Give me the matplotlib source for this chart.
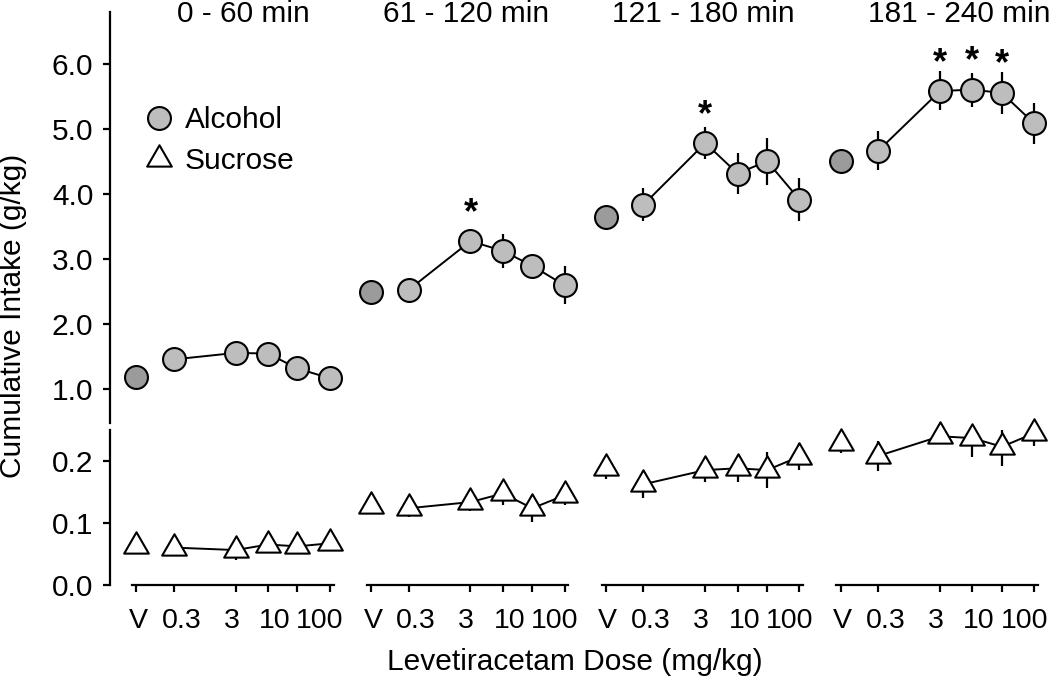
import numpy as np
import matplotlib
matplotlib.use('Agg')
import matplotlib.pyplot as plt
from matplotlib.path import Path
from matplotlib.markers import MarkerStyle
from matplotlib.lines import Line2D

plt.rcParams['font.family'] = ['Liberation Sans', 'DejaVu Sans']

# ------------------------------------------------------------------
# ---------------------------- Data --------------------------------
# ------------------------------------------------------------------
panels = ['0 - 60 min', '61 - 120 min', '121 - 180 min', '181 - 240 min']
doses = [0.3, 3, 10, 30, 100]          # mg/kg, first point of each panel is vehicle
dose_labels = ['V', '0.3', '3', '10', '', '100']

alcohol_mean = [[1.19, 1.46, 1.56, 1.55, 1.32, 1.17],
                [2.49, 2.53, 3.28, 3.13, 2.90, 2.60],
                [3.65, 3.84, 4.79, 4.32, 4.51, 3.92],
                [4.52, 4.67, 5.59, 5.61, 5.56, 5.09]]
alcohol_sem = [[0.08, 0.08, 0.10, 0.10, 0.10, 0.08],
               [0.08, 0.12, 0.15, 0.26, 0.15, 0.29],
               [0.08, 0.25, 0.25, 0.32, 0.36, 0.33],
               [0.10, 0.30, 0.30, 0.26, 0.32, 0.32]]
sucrose_mean = [[0.062, 0.060, 0.056, 0.065, 0.062, 0.067],
                [0.128, 0.124, 0.134, 0.148, 0.124, 0.145],
                [0.189, 0.163, 0.186, 0.189, 0.186, 0.208],
                [0.230, 0.209, 0.241, 0.238, 0.224, 0.246]]
sucrose_sem = [[0.006, 0.006, 0.016, 0.008, 0.008, 0.008],
               [0.008, 0.015, 0.014, 0.018, 0.022, 0.015],
               [0.018, 0.022, 0.020, 0.022, 0.029, 0.022],
               [0.017, 0.024, 0.012, 0.031, 0.032, 0.021]]
signif = [[], [2], [2], [2, 3, 4]]   # index of doses marked with *

# ------------------------------------------------------------------
# ------------------------- Layout ---------------------------------
# ------------------------------------------------------------------
W, H = 1050, 689
v_pos = -1.13                       # where the vehicle sits on the log axis
x = np.concatenate([[v_pos], np.log10(doses)])
label_shift = [0.03, 0.12, -0.07, 0.11, 0.0, -0.16]   # nudge tick labels like the original
xlim = (v_pos - 0.07, 2.06)

col_left = [132 + 234.8 * i for i in range(4)]
col_w = 201.5
top_px, brk_top, brk_bot, bot_px = 11.7, 422.7, 430, 584.5
title_x = [243, 466, 703, 959]

alc_fill = '#bdbdbd'
veh_fill = '#9b9b9b'
lw = 1.6
fs = 21.5

tri = MarkerStyle(Path([(0, 1), (-0.866, -0.5), (0.866, -0.5), (0, 1)],
                       [Path.MOVETO, Path.LINETO, Path.LINETO, Path.CLOSEPOLY]),
                  joinstyle='miter')

fig = plt.figure(figsize=(W / 100, H / 100), dpi=100)

for i in range(4):
    l = col_left[i] / W
    w = col_w / W
    ax_t = fig.add_axes([l, (H - brk_top) / H, w, (brk_top - top_px) / H])
    ax_b = fig.add_axes([l, (H - bot_px) / H, w, (bot_px - brk_bot) / H])

    for ax in (ax_t, ax_b):
        ax.set_xlim(xlim)
        ax.patch.set_visible(False)
        for s in ['top', 'right']:
            ax.spines[s].set_visible(False)
        for s in ['left', 'bottom']:
            ax.spines[s].set_linewidth(lw)
        ax.tick_params(axis='both', width=lw, length=5, labelsize=fs, pad=7)

    ax_t.set_ylim(0.486, 6.81)
    ax_b.set_ylim(0, 0.2512)
    ax_t.spines['bottom'].set_visible(False)
    ax_t.set_xticks([])

    if i == 0:
        for ax in (ax_t, ax_b):
            ax.spines['left'].set_position(('outward', 15.8))
        ax_t.set_yticks([1, 2, 3, 4, 5, 6], ['1.0', '2.0', '3.0', '4.0', '5.0', '6.0'])
        ax_b.set_yticks([0, 0.1, 0.2], ['0.0', '0.1', '0.2'])
    else:
        for ax in (ax_t, ax_b):
            ax.spines['left'].set_visible(False)
            ax.set_yticks([])

    # x axis: tick marks at the doses, labels slightly nudged
    ax_b.set_xticks(x, [''] * len(x))
    ax_b.set_xticks(x + np.array(label_shift), dose_labels, minor=True)
    ax_b.tick_params(axis='x', which='minor', length=0, labelsize=20.5, pad=17)

    # -------- Alcohol --------
    am = np.array(alcohol_mean[i])
    ax_t.errorbar(x, am, yerr=alcohol_sem[i], fmt='none', ecolor='k',
                  elinewidth=lw, capsize=0, zorder=2)
    ax_t.plot(x[1:], am[1:], c='k', lw=1.4, zorder=2)
    ax_t.plot(x[1:], am[1:], 'o', ms=16.5, mfc=alc_fill, mec='k', mew=1.5,
              zorder=3, clip_on=False)
    ax_t.plot(x[:1], am[:1], 'o', ms=16.5, mfc=veh_fill, mec='k', mew=1.5,
              zorder=3, clip_on=False)
    for k in signif[i]:
        ax_t.annotate('*', xy=(x[k], am[k]), xytext=(0, 20), textcoords='offset points',
                      ha='center', va='center', fontsize=26, fontweight='bold')

    # -------- Sucrose --------
    sm = np.array(sucrose_mean[i])
    ax_b.errorbar(x, sm, yerr=sucrose_sem[i], fmt='none', ecolor='k',
                  elinewidth=lw, capsize=0, zorder=2)
    ax_b.plot(x[1:], sm[1:], c='k', lw=1.4, zorder=2)
    ax_b.plot(x, sm, ls='none', marker=tri, ms=20.5, mfc='white', mec='k', mew=1.5,
              zorder=3, clip_on=False)

    fig.text(title_x[i] / W, (H - 22) / H, panels[i], ha='center', va='baseline',
             fontsize=fs)

    if i == 0:
        handles = [Line2D([], [], ls='none', marker='o', ms=16.5, mfc=alc_fill, mec='k', mew=1.5),
                   Line2D([], [], ls='none', marker=tri, ms=20.5, mfc='white', mec='k', mew=1.5)]
        ax_t.legend(handles, ['Alcohol', 'Sucrose'], loc='upper left',
                    bbox_to_anchor=((144.5 - col_left[0]) / col_w, 1 - (106 - top_px) / (brk_top - top_px)),
                    frameon=False, fontsize=fs, handlelength=1.0, handletextpad=0.35,
                    labelspacing=0.45, borderpad=0, borderaxespad=0)

fig.text(13 / W, 1 - 316 / H, 'Cumulative Intake (g/kg)', rotation=90,
         ha='center', va='center', fontsize=fs)
fig.text(575 / W, 1 - 662 / H, 'Levetiracetam Dose (mg/kg)', ha='center',
         va='center', fontsize=fs)

plt.savefig('out.png', dpi=100)
